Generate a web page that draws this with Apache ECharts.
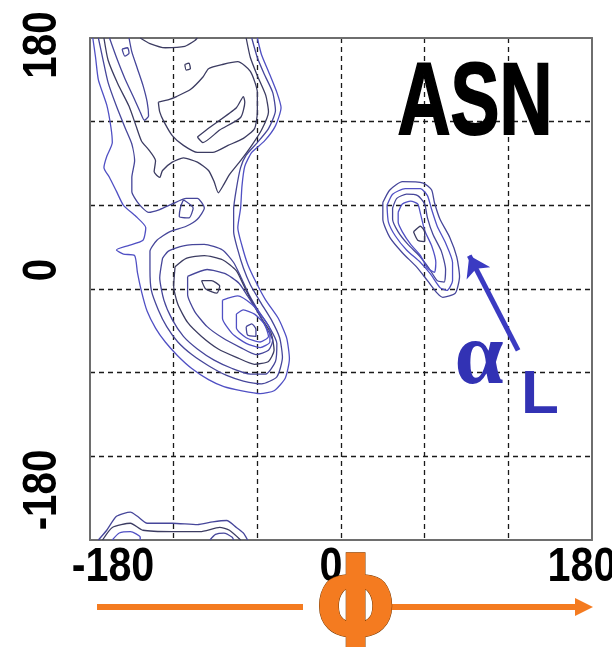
<!DOCTYPE html>
<html>
<head>
<meta charset="utf-8">
<script src="https://cdn.jsdelivr.net/npm/echarts@6.0.0/dist/echarts.min.js"></script>
<style>
  html, body { margin: 0; padding: 0; background: #fff; }
  #main { width: 612px; height: 647px; }
</style>
</head>
<body>
<div id="main"></div>
<script>
// tick values and their labels (phi on x, psi on y)
var phiTicks = [-180, 0, 180];
var psiTicks = [-180, 0, 180];
var tickLabels = ['-180', '0', '180'];

// contour lines, [phi, psi] in degrees
// beta / alpha-R region
var betaOuter = [[-178,180],[-176,166],[-174,150],[-168,132],[-165,116],[-164,105],[-168,95],[-170,87],[-166,80],[-161,70],[-156,60],[-147,52],[-140,44],[-142,35],[-153,31],[-161,28],[-156,25],[-148,24],[-146,12],[-143,-2],[-139,-16],[-133,-28],[-126,-38],[-117,-48],[-107,-57],[-95,-65],[-84,-70],[-71,-73],[-58,-75],[-48,-73],[-40,-64],[-37,-50],[-39,-35],[-45,-21],[-54,-8],[-61,5],[-67,18],[-71,31],[-74,44],[-72,58],[-71,74],[-69,88],[-64,98],[-55,106],[-47,117],[-43,130],[-46,141],[-52,156],[-57,168],[-60,180]];
var betaSecond = [[-174,180],[-171,166],[-167,148],[-161,131],[-155,116],[-150,104],[-148,92],[-150,80],[-150,70],[-145,61],[-138,55],[-130,57],[-121,61],[-111,65],[-103,65],[-98,58],[-103,50],[-111,45],[-123,41],[-132,35],[-137,27],[-137,14],[-136,-1],[-131,-15],[-125,-27],[-117,-38],[-107,-47],[-95,-55],[-82,-62],[-70,-66],[-57,-68],[-46,-63],[-42,-49],[-44,-35],[-50,-22],[-58,-9],[-65,3],[-70,15],[-74,28],[-77,41],[-77,57],[-75,72],[-72,87],[-68,96],[-60,105],[-52,115],[-47,128],[-49,141],[-55,154],[-60,166],[-64,180]];
var betaThird = [[-170,180],[-167,164],[-160,147],[-152,131],[-147,117],[-143,106],[-138,100],[-133,92],[-134,84],[-130,80],[-128,85],[-121,91],[-113,94],[-103,91],[-95,85],[-91,77],[-88,69],[-84,75],[-80,82],[-72,92],[-64,103],[-57,114],[-52,127],[-54,139],[-60,153],[-65,166],[-68,180]];
var betaTongue = [[-166,180],[-161,166],[-155,151],[-149,138],[-144,127],[-141,121],[-138,124],[-139,134],[-142,146],[-146,158],[-150,170],[-152,180]];
var betaTopArc = [[-144,180],[-137,176],[-126,173],[-112,174],[-105,178],[-103,180]];
var betaInner = [[-131,134],[-123,136],[-118,138],[-108,143],[-99,152],[-95,158],[-85,161],[-74,163],[-65,156],[-60,141],[-60,127],[-62,115],[-70,108],[-81,103],[-92,98],[-103,98],[-113,103],[-121,110],[-127,120],[-130,127],[-131,134]];
var betaCore = [[-103,109],[-94,116],[-75,130],[-70,138],[-69,134],[-72,123],[-87,114],[-99,105],[-103,109]];
var betaDotA = [[-157,172],[-153,173],[-152,169],[-155,167],[-157,172]];
var betaDotB = [[-112,161],[-109,162],[-108,158],[-111,157],[-112,161]];
var bridgeDiamond = [[-113,64],[-106,58],[-109,51],[-116,52],[-115,59],[-113,64]];
var alpha3 = [[-128,22],[-130,8],[-127,-8],[-121,-22],[-113,-34],[-103,-43],[-91,-51],[-78,-57],[-65,-61],[-54,-61],[-47,-52],[-46,-39],[-51,-28],[-59,-16],[-66,-4],[-72,9],[-77,19],[-85,28],[-98,32],[-113,31],[-124,27],[-128,22]];
var alpha4 = [[-119,16],[-120,2],[-117,-11],[-110,-24],[-100,-34],[-88,-43],[-75,-49],[-62,-54],[-52,-52],[-48,-44],[-50,-32],[-57,-21],[-64,-9],[-70,3],[-75,13],[-85,21],[-98,24],[-111,22],[-119,16]];
var alpha5 = [[-110,9],[-110,-4],[-105,-16],[-96,-27],[-85,-35],[-72,-42],[-61,-47],[-52,-44],[-49,-37],[-54,-27],[-60,-16],[-67,-5],[-73,4],[-83,11],[-96,14],[-110,9]];
var alpha6 = [[-85,-8],[-85,-21],[-78,-32],[-68,-39],[-58,-42],[-51,-38],[-51,-29],[-57,-19],[-64,-11],[-74,-5],[-85,-8]];
var alpha7 = [[-75,-18],[-75,-28],[-68,-35],[-58,-38],[-52,-34],[-55,-25],[-62,-18],[-70,-15],[-75,-18]];
var alpha8 = [[-68,-27],[-67,-33],[-61,-34],[-61,-29],[-64,-25],[-68,-27]];
var alphaTopLoop = [[-100,6],[-97,0],[-89,-3],[-87,2],[-93,6],[-100,6]];
// alpha-L region
var alphaL1 = [[30,62],[35,71],[44,77],[59,76],[65,71],[67,62],[71,50],[78,37],[83,23],[85,9],[82,-3],[73,-6],[69,-3],[62,6],[54,16],[44,26],[35,37],[30,50],[30,62]];
var alphaL2 = [[33,60],[37,68],[46,72],[57,72],[62,67],[65,57],[69,45],[75,33],[80,19],[80,6],[76,-1],[71,1],[64,11],[57,19],[47,28],[39,38],[34,48],[33,60]];
var alphaL3 = [[37,58],[40,65],[47,68],[55,67],[60,61],[62,51],[66,39],[72,27],[75,14],[74,5],[69,6],[63,15],[56,24],[48,32],[41,41],[37,50],[37,58]];
var alphaL4 = [[41,55],[44,61],[50,63],[55,61],[57,54],[60,42],[65,31],[68,19],[67,12],[62,15],[57,24],[50,32],[44,41],[41,48],[41,55]];
var alphaL5 = [[52,41],[57,45],[60,41],[60,34],[55,35],[52,41]];
// wrap-around at the bottom edge
var bottom1 = [[-174,-180],[-168,-173],[-161,-163],[-151,-160],[-146,-163],[-139,-168],[-121,-168],[-103,-169],[-92,-167],[-82,-166],[-75,-171],[-70,-175],[-67,-180]];
var bottom2 = [[-171,-180],[-164,-171],[-151,-168],[-142,-173],[-121,-174],[-101,-174],[-87,-171],[-80,-173],[-72,-180]];
var bottom3 = [[-164,-180],[-159,-175],[-151,-174],[-144,-178],[-144,-180]];
var bottom4 = [[-94,-180],[-90,-176],[-84,-175],[-78,-178],[-77,-180]];

// arrow pointing at the alpha-L basin
var alphaLArrow = [[127,-44],[92,24]];

var DARK = '#3c3c62';
var MID = '#46469a';
var BLUE = '#5050c4';

function contour(data, color) {
  return {
    type: 'line',
    data: data,
    symbol: 'none',
    smooth: 0.2,
    silent: true,
    animation: false,
    lineStyle: { color: color, width: 1.3 }
  };
}

var myChart = echarts.init(document.getElementById('main'));

var frame = { show: true, onZero: false, lineStyle: { color: '#6e6e6e', width: 2 } };
var dashed = { show: true, showMinLine: false, showMaxLine: false,
  lineStyle: { color: '#1a1a1a', type: [5, 4], width: 1.3 } };

myChart.setOption({
  backgroundColor: '#fff',
  animation: false,
  grid: { left: 90, top: 38, width: 502, height: 502 },
  xAxis: [
    { type: 'value', position: 'bottom', min: -180, max: 180, interval: 60,
      axisLine: frame, axisTick: { show: false }, axisLabel: { show: false }, splitLine: dashed },
    { type: 'value', position: 'top', min: -180, max: 180, interval: 60,
      axisLine: frame, axisTick: { show: false }, axisLabel: { show: false }, splitLine: { show: false } }
  ],
  yAxis: [
    { type: 'value', position: 'left', min: -180, max: 180, interval: 60,
      axisLine: frame, axisTick: { show: false }, axisLabel: { show: false }, splitLine: dashed },
    { type: 'value', position: 'right', min: -180, max: 180, interval: 60,
      axisLine: frame, axisTick: { show: false }, axisLabel: { show: false }, splitLine: { show: false } }
  ],
  series: [
    contour(betaOuter, BLUE),
    contour(betaSecond, MID),
    contour(betaThird, DARK),
    contour(betaTongue, MID),
    contour(betaTopArc, DARK),
    contour(betaInner, DARK),
    contour(betaCore, DARK),
    contour(betaDotA, MID),
    contour(betaDotB, DARK),
    contour(bridgeDiamond, MID),
    contour(alpha3, MID),
    contour(alpha4, DARK),
    contour(alpha5, MID),
    contour(alpha6, BLUE),
    contour(alpha7, BLUE),
    contour(alpha8, MID),
    contour(alphaTopLoop, DARK),
    contour(alphaL1, MID),
    contour(alphaL2, BLUE),
    contour(alphaL3, MID),
    contour(alphaL4, BLUE),
    contour(alphaL5, DARK),
    contour(bottom1, MID),
    contour(bottom2, DARK),
    contour(bottom3, BLUE),
    contour(bottom4, MID),
    {
      type: 'lines',
      coordinateSystem: 'cartesian2d',
      silent: true,
      symbol: ['none', 'arrow'],
      symbolSize: 20,
      lineStyle: { color: '#3b3bc2', width: 5, opacity: 1 },
      data: [{ coords: alphaLArrow }],
      z: 5
    }
  ]
});

// text and the phi arrow, laid out around the grid
var BOLD = 'bold 48px "Liberation Sans", Arial, sans-serif';
var xNudge = [23, -10, -10];
var yNudge = [-50, -19, 7];
var gfx = [];
phiTicks.forEach(function (v, i) {
  var p = myChart.convertToPixel({ xAxisIndex: 0, yAxisIndex: 0 }, [v, -180]);
  gfx.push({ type: 'text', x: p[0] + xNudge[i], y: 568, scaleX: 0.86, z: 10,
    style: { text: tickLabels[i], font: BOLD, fill: '#000', align: 'center', verticalAlign: 'middle',
      textAlign: 'center', textVerticalAlign: 'middle' } });
});
psiTicks.forEach(function (v, i) {
  var p = myChart.convertToPixel({ xAxisIndex: 0, yAxisIndex: 0 }, [-180, v]);
  gfx.push({ type: 'text', x: 43, y: p[1] + yNudge[i], rotation: Math.PI / 2, scaleX: 0.84, z: 10,
    style: { text: tickLabels[i], font: BOLD, fill: '#000', align: 'center', verticalAlign: 'middle',
      textAlign: 'center', textVerticalAlign: 'middle' } });
});

// ASN label
gfx.push({ type: 'text', x: 475, y: 106, scaleX: 0.72, z: 10,
  style: { text: 'ASN', font: 'bold 102px "Liberation Sans", Arial, sans-serif', fill: '#000',
    stroke: '#000', lineWidth: 2,
    align: 'center', verticalAlign: 'middle', textAlign: 'center', textVerticalAlign: 'middle' } });
// alpha L
gfx.push({ type: 'text', x: 479, y: 360, z: 10,
  style: { text: 'α', font: 'bold 88px "Liberation Serif", "Times New Roman", serif', fill: '#3232b4',
    align: 'center', verticalAlign: 'middle', textAlign: 'center', textVerticalAlign: 'middle' } });
gfx.push({ type: 'text', x: 540, y: 396, z: 10,
  style: { text: 'L', font: 'bold 62px "Liberation Sans", Arial, sans-serif', fill: '#3232b4',
    align: 'center', verticalAlign: 'middle', textAlign: 'center', textVerticalAlign: 'middle' } });

// phi axis title with orange arrow
var ORANGE = '#f47b20';
gfx.push({ type: 'rect', shape: { x: 97, y: 604, width: 206, height: 6 }, style: { fill: ORANGE }, z: 10 });
gfx.push({ type: 'rect', shape: { x: 383, y: 604, width: 194, height: 6 }, style: { fill: ORANGE }, z: 10 });
gfx.push({ type: 'polygon', shape: { points: [[575, 598], [593, 607], [575, 616]] }, style: { fill: ORANGE }, z: 10 });
gfx.push({ type: 'text', x: 356, y: 607, z: 10,
  style: { text: 'ϕ', font: 'bold 108px "DejaVu Sans", sans-serif', fill: ORANGE,
    stroke: '#7a3a00', lineWidth: 1,
    align: 'center', verticalAlign: 'middle', textAlign: 'center', textVerticalAlign: 'middle' } });

myChart.setOption({ graphic: { elements: gfx } });
</script>
</body>
</html>
